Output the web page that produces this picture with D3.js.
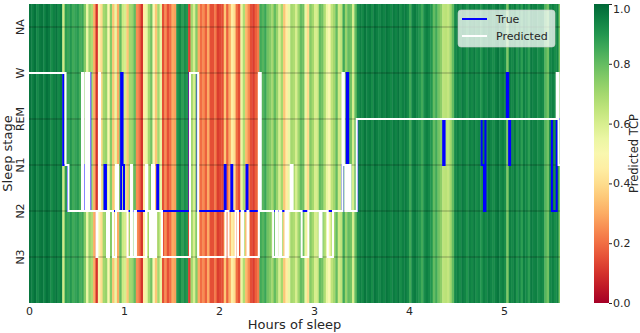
<!DOCTYPE html>
<html>
<head>
<meta charset="utf-8">
<script src="https://cdn.jsdelivr.net/npm/d3@7"></script>
<style>
  html, body { margin: 0; padding: 0; background: #ffffff; }
  svg { display: block; font-family: "DejaVu Sans", sans-serif; }
</style>
</head>
<body>
<div id="chart"></div>
<script>
// ---------------- data ----------------
const stages = ["NA", "W", "REM", "N1", "N2", "N3"];
const xTicks = [0, 1, 2, 3, 4, 5];
const cbTicks = [0.0, 0.2, 0.4, 0.6, 0.8, 1.0];
const totalHours = 5.59;
const binHours = 0.025;

// Predicted TCP per 0.025-hour bin (read from the background stripes)
const tcp = [
  0.97,0.95,0.98,0.93,0.96,0.97,0.94,0.98,0.96,0.92,0.95,0.97,0.93,0.96,0.62,
  0.88,0.86,0.90,0.85,0.87,0.89,0.84,0.86,
  0.75,0.55,0.72,0.68,0.30,0.10,0.50,0.40,0.70,0.72,0.50,0.75,0.35,0.55,
  0.30,0.80,0.62,0.60,0.35,0.70,0.72,0.80,0.25,0.20,0.10,0.45,0.55,0.70,0.78,0.50,0.35,0.70,0.55,0.15,0.25,0.15,0.20,0.30,0.28,
  0.90,0.93,0.88,0.92,0.90,0.12,0.70,0.60,0.75,0.30,0.20,0.25,0.18,
  0.30,0.15,0.15,0.22,0.12,0.14,0.15,0.35,0.18,0.30,0.45,0.40,0.20,0.15,0.55,0.68,0.32,0.25,0.15,0.12,0.18,0.22,
  0.85,0.82,0.86,0.78,0.75,0.70,0.80,0.72,0.60,0.70,0.35,0.45,0.55,0.70,0.68,0.60,
  0.70,0.80,0.78,0.55,0.40,0.75,0.70,0.60,0.62,0.80,0.78,0.68,0.55,0.50,0.65,0.70,0.80,0.62,0.65,0.85,0.72,0.80,0.78,0.60,0.80,0.92,
  0.95,0.93,0.97,0.94,0.96,0.92,0.97,0.95,0.93,0.96,0.94,0.97,
  0.95,0.93,0.96,0.94,0.97,0.92,0.95,0.96,0.93,0.85,0.94,0.96,0.93,0.90,0.85,0.92,0.95,0.93,0.90,
  0.80,0.85,0.78,0.74,0.65,0.66,0.64,0.70,0.80,
  0.93,0.95,0.92,0.96,0.94,0.90,0.95,0.93,0.96,0.92,
  0.94,0.90,0.95,0.93,0.96,0.94,0.92,0.95,0.97,0.93,0.95,0.92,0.76,
  0.95,0.93,0.96,0.90,0.94,0.88,0.95,0.93,0.88,0.96,0.94,0.95,0.92,0.94,0.93,0.82,0.78,0.93,0.95,0.92,0.94,0.76
];

// True hypnogram: change points (hours) and stage entered
const trueTimes = [0, 0.36, 0.41, 0.58, 0.59, 0.633, 0.645, 0.795, 0.81, 0.97, 0.985, 1.0, 1.35, 1.36,
  1.69, 1.775, 2.06, 2.07, 2.13, 2.14, 2.29, 2.3, 3.3, 3.345, 3.36, 3.375, 3.455,
  4.36, 4.375, 4.765, 4.79, 4.805, 5.03, 5.045, 5.055, 5.065, 5.505, 5.555];
const trueStages = ["W","N1","N2","N1","N2","W","N2","N1","N2","W","N1","N2","N1","N2",
  "W","N2","N1","N2","N1","N2","N1","N2","N1","W","N1","N2","REM",
  "N1","REM","N1","N2","REM","W","REM","N1","REM","N2","REM"];

// Predicted hypnogram
const predTimes = [0, 0.385, 0.415, 0.558, 0.574, 0.6, 0.61, 0.626, 0.637, 0.71, 0.72, 0.737, 0.747,
  0.821, 0.842, 0.884, 0.916, 0.937, 1.037, 1.074, 1.084, 1.11, 1.126, 1.232, 1.245, 1.274, 1.295,
  1.316, 1.337, 1.4, 1.695, 1.78, 2.07, 2.1, 2.175, 2.2, 2.24, 2.255, 2.3, 2.31, 2.42, 2.44,
  2.57, 2.6, 2.615, 2.64, 2.655, 2.7, 2.71, 2.725, 2.755, 2.775, 2.87, 2.94, 3.06, 3.08, 3.145,
  3.2, 3.3, 3.315, 3.33, 3.34, 3.36, 3.37, 3.385, 3.45, 5.555, 5.575];
const predStages = ["W","N1","N2","W","N2","W","N2","W","N2","N3","N2","W","N2",
  "N3","N2","N3","N1","N2","N3","N1","N3","N2","N3","N1","N2","N3","N1",
  "N3","N2","N3","W","N3","N2","N3","N2","N3","N2","N3","N2","N3","W","N2",
  "N3","N2","N3","N2","N3","N2","N3","N2","N1","N2","N3","N2","N3","N2","N3",
  "N2","W","N1","N2","N1","N2","N1","N2","REM","W","N1"];

const legendLabels = ["True", "Predicted"];
const seriesColors = ["#0000ff", "#ffffff"];

// ---------------- layout ----------------
const W = 640, H = 333;
const plot = { left: 29, right: 560, top: 4, bottom: 303 };
const cb = { left: 594, right: 609 };
const textColor = "#262626";

const svg = d3.select("#chart").append("svg").attr("width", W).attr("height", H);

const x = d3.scaleLinear().domain([0, totalHours]).range([plot.left, plot.right]);
const stageIdx = d3.scaleOrdinal().domain(stages).range(d3.range(stages.length));
const y = d3.scaleLinear().domain([-0.5, 6]).range([plot.top, plot.bottom]);
const color = d3.scaleSequential(d3.interpolateRdYlGn).domain([0, 1]);

svg.append("clipPath").attr("id", "clip").append("rect")
  .attr("x", plot.left).attr("y", plot.top)
  .attr("width", plot.right - plot.left).attr("height", plot.bottom - plot.top);

const g = svg.append("g").attr("clip-path", "url(#clip)");

// heatmap stripes
g.selectAll("rect.stripe").data(tcp).join("rect")
  .attr("class", "stripe")
  .attr("x", (d, i) => x(i * binHours))
  .attr("width", (d, i) => x(Math.min((i + 1) * binHours, totalHours)) - x(i * binHours) + 0.4)
  .attr("y", plot.top)
  .attr("height", plot.bottom - plot.top)
  .attr("fill", d => color(d));

// horizontal stage grid lines
g.selectAll("line.grid").data(stages).join("line")
  .attr("x1", plot.left).attr("x2", plot.right)
  .attr("y1", d => y(stageIdx(d))).attr("y2", d => y(stageIdx(d)))
  .attr("stroke", "#000").attr("stroke-opacity", 0.35).attr("stroke-width", 0.9);

function stepPoints(times, st) {
  const pts = times.map((t, i) => [t, stageIdx(st[i])]);
  pts.push([totalHours, stageIdx(st[st.length - 1])]);
  return pts;
}
const line = d3.line().x(d => x(d[0])).y(d => y(d[1])).curve(d3.curveStepAfter);

g.append("path").datum(stepPoints(trueTimes, trueStages))
  .attr("d", line).attr("fill", "none")
  .attr("stroke", seriesColors[0]).attr("stroke-width", 2);
g.append("path").datum(stepPoints(predTimes, predStages))
  .attr("d", line).attr("fill", "none")
  .attr("stroke", seriesColors[1]).attr("stroke-width", 2);

// x axis
const xAxis = svg.append("g").attr("transform", `translate(0,${plot.bottom})`)
  .call(d3.axisBottom(x).tickValues(xTicks).tickFormat(d3.format("d")).tickSize(0).tickPadding(4));
xAxis.select(".domain").remove();
xAxis.selectAll("text").attr("font-size", 11).attr("fill", textColor).attr("font-family", "DejaVu Sans");

svg.append("text").attr("x", (plot.left + plot.right) / 2).attr("y", 329)
  .attr("text-anchor", "middle").attr("font-size", 13).attr("fill", textColor)
  .text("Hours of sleep");

// y tick labels (rotated)
svg.selectAll("text.ytick").data(stages).join("text")
  .attr("class", "ytick")
  .attr("transform", d => `translate(24,${y(stageIdx(d))}) rotate(-90)`)
  .attr("text-anchor", "middle")
  .attr("font-size", 11).attr("fill", textColor)
  .text(d => d);

svg.append("text")
  .attr("transform", `translate(12,${(plot.top + plot.bottom) / 2}) rotate(-90)`)
  .attr("text-anchor", "middle").attr("font-size", 13).attr("fill", textColor)
  .text("Sleep stage");

// legend
const lg = svg.append("g");
lg.append("rect").attr("x", 458).attr("y", 10).attr("width", 97).attr("height", 37)
  .attr("rx", 3).attr("fill", "#ffffff").attr("fill-opacity", 0.75)
  .attr("stroke", "#cccccc").attr("stroke-opacity", 0.6);
legendLabels.forEach((lab, i) => {
  const yy = 19 + i * 17;
  lg.append("line").attr("x1", 462).attr("x2", 487).attr("y1", yy).attr("y2", yy)
    .attr("stroke", seriesColors[i]).attr("stroke-width", 2);
  lg.append("text").attr("x", 496).attr("y", yy + 4).attr("font-size", 11)
    .attr("fill", textColor).text(lab);
});

// colorbar
const defs = svg.append("defs");
const grad = defs.append("linearGradient").attr("id", "cbgrad")
  .attr("x1", 0).attr("y1", 1).attr("x2", 0).attr("y2", 0);
d3.range(0, 1.0001, 0.05).forEach(t => {
  grad.append("stop").attr("offset", t).attr("stop-color", color(t));
});
svg.append("rect").attr("x", cb.left).attr("y", plot.top)
  .attr("width", cb.right - cb.left).attr("height", plot.bottom - plot.top)
  .attr("fill", "url(#cbgrad)");
const cbScale = d3.scaleLinear().domain([0, 1]).range([plot.bottom, plot.top]);
const cbAxis = svg.append("g").attr("transform", `translate(${cb.right},0)`)
  .call(d3.axisRight(cbScale).tickValues(cbTicks).tickFormat(d3.format(".1f")).tickSize(3).tickPadding(1));
cbAxis.select(".domain").remove();
cbAxis.selectAll("line").attr("stroke", textColor);
cbAxis.selectAll("text").attr("font-size", 11).attr("fill", textColor).attr("font-family", "DejaVu Sans")
  .attr("dy", d => d === 1 ? "0.75em" : "0.32em");

svg.append("text")
  .attr("transform", `translate(637.5,${(plot.top + plot.bottom) / 2}) rotate(-90)`)
  .attr("text-anchor", "middle").attr("font-size", 11.5).attr("fill", textColor)
  .text("Predicted TCP");
</script>
</body>
</html>
